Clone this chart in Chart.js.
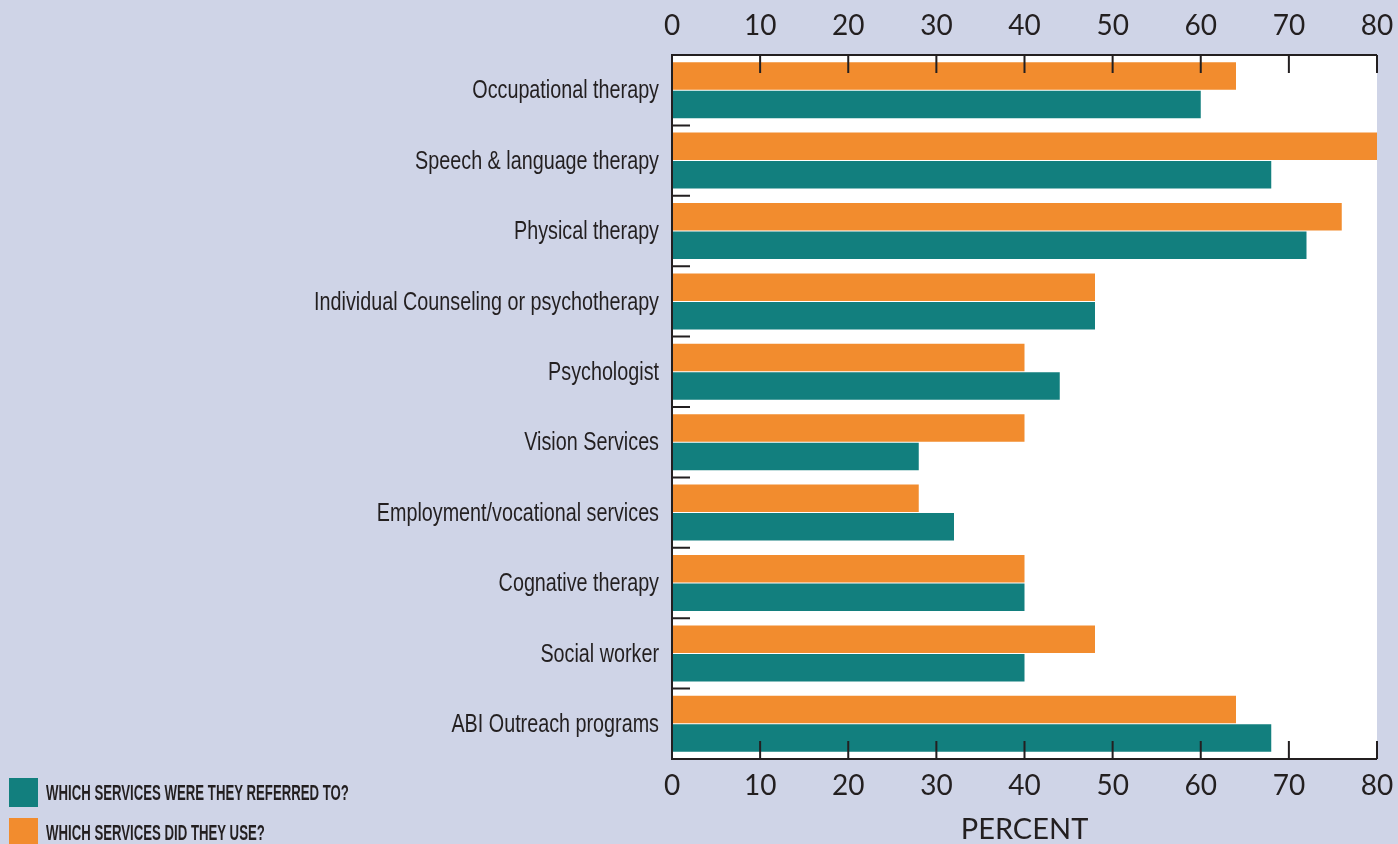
<!DOCTYPE html>
<html>
<head>
<meta charset="utf-8">
<script src="https://cdn.jsdelivr.net/npm/chart.js@4.4.0/dist/chart.umd.min.js"></script>
<style>
  html, body { margin: 0; padding: 0; background: #cfd4e7; overflow: hidden; }
  #wrap { position: relative; width: 1398px; height: 844px; }
  canvas { position: absolute; left: 0; top: 0; }
  .key { position: absolute; left: 9px; display: flex; align-items: center; white-space: nowrap; }
  .key .box { display: inline-block; width: 29px; height: 29px; margin-right: 8px; }
  .key .txt { display: inline-block; transform: scaleX(0.6); transform-origin: left center;
              font-family: "Liberation Sans", Arial, sans-serif; font-weight: bold;
              font-size: 22px; color: #231f20; }
</style>
</head>
<body>
<div id="wrap">
  <canvas id="servicesChart" width="1398" height="844"></canvas>
  <div class="key" style="top:778px"><span class="box" style="background:#127f7e"></span><span class="txt">WHICH SERVICES WERE THEY REFERRED TO?</span></div>
  <div class="key" style="top:818px"><span class="box" style="background:#f28c2e"></span><span class="txt">WHICH SERVICES DID THEY USE?</span></div>
</div>
<script>
const categories = [
  "Occupational therapy",
  "Speech & language therapy",
  "Physical therapy",
  "Individual Counseling or psychotherapy",
  "Psychologist",
  "Vision Services",
  "Employment/vocational services",
  "Cognative therapy",
  "Social worker",
  "ABI Outreach programs"
];
const usedServices = [64, 80, 76, 48, 40, 40, 28, 40, 48, 64];
const referredServices = [60, 68, 72, 48, 44, 28, 32, 40, 40, 68];
const percentTicks = [0, 10, 20, 30, 40, 50, 60, 70, 80];

const ink = "#231f20";

// white plot area behind the bars
const plotBackground = {
  id: "plotBackground",
  beforeDraw(chart) {
    const { ctx, chartArea: a } = chart;
    ctx.save();
    ctx.fillStyle = "#ffffff";
    ctx.fillRect(a.left, a.top, a.right - a.left, a.bottom - a.top);
    ctx.restore();
  }
};

// axis lines plus short tick marks pointing into the plot
const innerTicks = {
  id: "innerTicks",
  afterDraw(chart) {
    const { ctx, chartArea: a, scales: { x, y } } = chart;
    ctx.save();
    ctx.strokeStyle = ink;
    ctx.lineWidth = 2;
    ctx.beginPath();
    ctx.moveTo(a.left, a.top); ctx.lineTo(a.right, a.top);
    ctx.moveTo(a.left, a.bottom); ctx.lineTo(a.right, a.bottom);
    ctx.moveTo(a.left, a.top - 1); ctx.lineTo(a.left, a.bottom + 1);
    x.ticks.forEach(t => {
      const px = x.getPixelForValue(t.value);
      ctx.moveTo(px, a.top); ctx.lineTo(px, a.top + 18);
      ctx.moveTo(px, a.bottom); ctx.lineTo(px, a.bottom - 18);
    });
    const band = (a.bottom - a.top) / categories.length;
    categories.forEach((c, i) => {
      const py = y.getPixelForValue(i) - band / 2;
      ctx.moveTo(a.left, py); ctx.lineTo(a.left + 18, py);
    });
    ctx.stroke();
    ctx.restore();
  }
};

// category names in a narrow face, placed on the y scale
const narrowLabels = {
  id: "narrowLabels",
  afterDraw(chart) {
    const { ctx, chartArea: a, scales: { y } } = chart;
    ctx.save();
    ctx.fillStyle = ink;
    ctx.font = "26px 'Liberation Sans', Arial, sans-serif";
    ctx.textAlign = "right";
    ctx.textBaseline = "middle";
    categories.forEach((c, i) => {
      ctx.save();
      ctx.translate(a.left - 13, y.getPixelForValue(i) + 1);
      ctx.scale(0.76, 1);
      ctx.fillText(c, 0, 0);
      ctx.restore();
    });
    ctx.restore();
  }
};

const tickFont = { family: "Lato, 'Noto Sans', sans-serif", size: 28 };

function noSidePadding(scale) {
  scale.paddingLeft = 0;
  scale.paddingRight = 0;
}

new Chart(document.getElementById("servicesChart"), {
  type: "bar",
  data: {
    labels: categories,
    datasets: [
      {
        label: "WHICH SERVICES DID THEY USE?",
        data: usedServices,
        backgroundColor: "#f28c2e",
        borderWidth: 0,
        categoryPercentage: 0.81,
        barPercentage: 0.965
      },
      {
        label: "WHICH SERVICES WERE THEY REFERRED TO?",
        data: referredServices,
        backgroundColor: "#127f7e",
        borderWidth: 0,
        categoryPercentage: 0.81,
        barPercentage: 0.965
      }
    ]
  },
  options: {
    indexAxis: "y",
    responsive: false,
    animation: false,
    layout: { padding: { left: 0, right: 21, top: 0, bottom: 0 } },
    plugins: {
      legend: { display: false },
      tooltip: { enabled: false }
    },
    scales: {
      y: {
        grid: { display: false, drawTicks: false },
        border: { display: false },
        ticks: { display: false },
        afterFit(scale) { scale.width = 672; }
      },
      x: {
        position: "bottom",
        min: 0,
        max: 80,
        grid: { display: false, drawTicks: false },
        border: { display: false },
        afterBuildTicks(scale) { scale.ticks = percentTicks.map(v => ({ value: v })); },
        ticks: { color: ink, padding: 10, font: tickFont },
        title: {
          display: true,
          text: "PERCENT",
          color: ink,
          padding: { top: 0, bottom: 0 },
          font: { family: "Lato, 'Noto Sans', sans-serif", size: 29, lineHeight: 1 }
        },
        afterFit(scale) { scale.height = 85; noSidePadding(scale); }
      },
      x2: {
        position: "top",
        display: true,
        min: 0,
        max: 80,
        grid: { display: false, drawTicks: false },
        border: { display: false },
        afterBuildTicks(scale) { scale.ticks = percentTicks.map(v => ({ value: v })); },
        ticks: { color: ink, padding: 12, font: tickFont },
        afterFit(scale) { scale.height = 55; noSidePadding(scale); }
      }
    }
  },
  plugins: [plotBackground, innerTicks, narrowLabels]
});
</script>
</body>
</html>
